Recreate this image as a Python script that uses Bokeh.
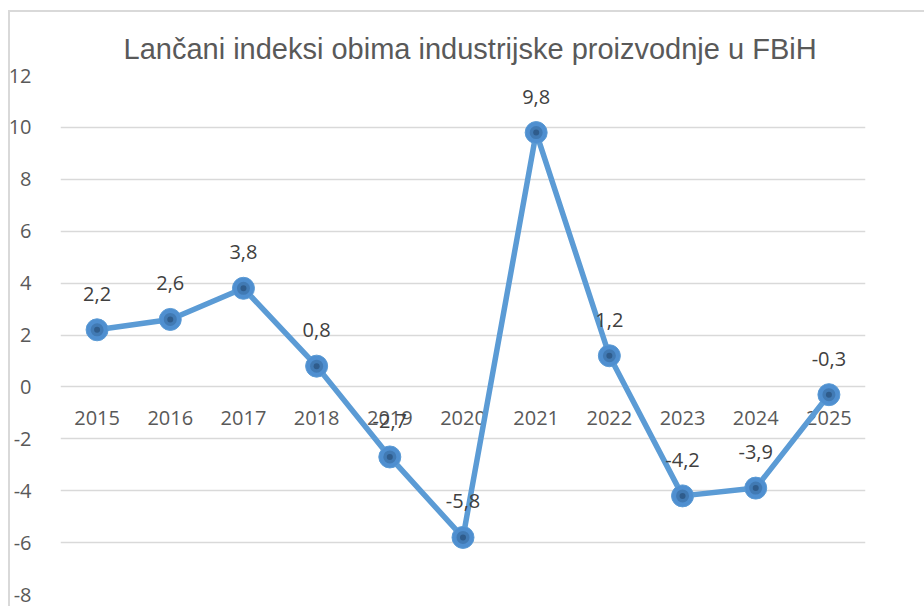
from bokeh.plotting import figure
from bokeh.models import (FactorRange, Range1d, SingleIntervalTicker, ColumnDataSource,
                          PrintfTickFormatter, InlineStyleSheet)
from bokeh.embed import file_html
from bokeh.resources import INLINE
from bokeh.core.properties import value

years = ["2015", "2016", "2017", "2018", "2019", "2020", "2021", "2022", "2023", "2024", "2025"]
values = [2.2, 2.6, 3.8, 0.8, -2.7, -5.8, 9.8, 1.2, -4.2, -3.9, -0.3]
labels = ["2,2", "2,6", "3,8", "0,8", "-2,7", "-5,8", "9,8", "1,2", "-4,2", "-3,9", "-0,3"]
title_text = "Lančani indeksi obima industrijske proizvodnje u FBiH"

FONT = "Open Sans"
TITLE_FONT = "Liberation Sans"

p = figure(
    width=924, height=606,
    x_range=FactorRange(*years, range_padding=0),
    y_range=Range1d(-8, 12),
    output_backend="svg", toolbar_location=None,
    min_border_left=60, min_border_right=59, min_border_top=75, min_border_bottom=12,
)

# chart-area frame: only its left and top edges fall inside the picture
p.stylesheets = [InlineStyleSheet(css="""
:host::before {
  content: "";
  position: absolute;
  left: 8px; top: 10px; right: -10px; bottom: -10px;
  border-left: 2px solid #d9d9d9;
  border-top: 2px solid #d9d9d9;
  pointer-events: none;
  z-index: 5;
}
""")]

p.title.text = title_text
p.title.align = "left"
p.title.offset = 63
p.title.standoff = 21
p.title.text_font = TITLE_FONT
p.title.text_font_size = "29px"
p.title.text_font_style = "normal"
p.title.text_color = "#595959"

p.outline_line_color = None
p.xaxis.visible = False
p.xgrid.grid_line_color = None
p.ygrid.grid_line_color = "#d9d9d9"
p.ygrid.grid_line_width = 1.5

p.yaxis.ticker = SingleIntervalTicker(interval=2)
p.yaxis.formatter = PrintfTickFormatter(format="%d")
p.yaxis.axis_line_color = None
p.yaxis.major_tick_line_color = None
p.yaxis.minor_tick_line_color = None
p.yaxis.major_label_text_font = FONT
p.yaxis.major_label_text_font_size = "20px"
p.yaxis.major_label_text_color = "#595959"
p.yaxis.major_label_standoff = 23

src = ColumnDataSource(dict(x=years, y=values, lab=labels, zero=[0] * len(years)))

# category labels along the zero line
p.text(x="x", y="zero", text="x", source=src, text_font=value(FONT), text_font_size="20px",
       text_color="#595959", text_align="center", text_baseline="middle", y_offset=31)

p.line(x="x", y="y", source=src, line_color="#5b9bd5", line_width=5.5)
p.scatter(x="x", y="y", source=src, size=22, fill_color="#4f8fd0", line_color="#5b9bd5", line_width=1)
p.scatter(x="x", y="y", source=src, size=13, fill_color="#3d74ad", line_color=None, fill_alpha=0.8)
p.scatter(x="x", y="y", source=src, size=6, fill_color="#2b5582", line_color=None, fill_alpha=0.8)

p.text(x="x", y="y", text="lab", source=src, text_font=value(FONT), text_font_size="20px",
       text_color="#404040", text_align="center", text_baseline="middle", y_offset=-36)

open("out.html", "w").write(file_html(p, INLINE))
